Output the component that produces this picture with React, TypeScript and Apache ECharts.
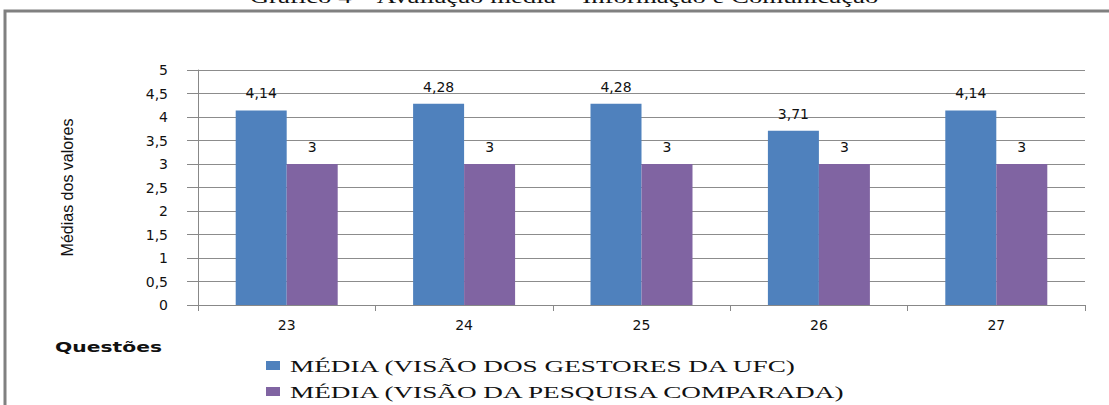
import React, { useEffect, useRef } from "react";
import * as echarts from "echarts";

const categories = ["23", "24", "25", "26", "27"];
const gestoresValues = [4.14, 4.28, 4.28, 3.71, 4.14];
const pesquisaValues = [3, 3, 3, 3, 3];
const seriesNames = [
  "MÉDIA (VISÃO DOS GESTORES DA UFC)",
  "MÉDIA (VISÃO DA PESQUISA COMPARADA)",
];
const seriesColors = ["#4F81BD", "#8064A2"];
const titleText = "Gráfico 4 – Avaliação média – Informação e Comunicação";
const yAxisName = "Médias dos valores";
const xAxisName = "Questões";

const comma = (v: number) => String(v).replace(".", ",");

export default function App() {
  const ref = useRef<HTMLDivElement>(null);
  useEffect(() => {
    document.body.style.margin = "0";
    if (!ref.current) return;
    const chart = echarts.init(ref.current, null, { renderer: "svg" });
    const labelStyle = {
      show: true,
      position: "top" as const,
      distance: 10,
      color: "#111",
      fontFamily: "DejaVu Sans",
      fontSize: 14,
      formatter: (p: any) => comma(p.value),
    };
    const legendGraphics: any[] = [];
    seriesNames.forEach((name, i) => {
      const cy = 366 + i * 26;
      legendGraphics.push({
        type: "rect",
        shape: { x: 266, y: cy - 5, width: 14, height: 9 },
        style: { fill: seriesColors[i] },
        silent: true,
      });
      legendGraphics.push({
        type: "text",
        x: 290,
        y: cy,
        scaleX: 1.6,
        originX: 0,
        style: {
          text: name,
          fontFamily: "Liberation Serif",
          fontSize: 17,
          fill: "#111",
          textAlign: "left",
          textVerticalAlign: "middle",
        },
      });
    });
    chart.setOption({
      animation: false,
      backgroundColor: "#fff",
      grid: { left: 198, right: 24, top: 70, bottom: 100, containLabel: false },
      legend: { show: false, data: seriesNames },
      xAxis: {
        type: "category",
        data: categories,
        axisLine: { lineStyle: { color: "#888", width: 1 } },
        axisTick: { show: true, length: 6, lineStyle: { color: "#888" } },
        axisLabel: {
          margin: 13,
          color: "#111",
          fontFamily: "DejaVu Sans",
          fontSize: 14,
        },
      },
      yAxis: {
        type: "value",
        min: 0,
        max: 5,
        interval: 0.5,
        name: yAxisName,
        nameLocation: "middle",
        nameRotate: 90,
        nameGap: 123,
        nameTextStyle: {
          fontFamily: "Liberation Sans",
          fontSize: 16,
          color: "#111",
        },
        axisLine: { show: true, lineStyle: { color: "#888", width: 1 } },
        axisTick: { show: true, length: 11, lineStyle: { color: "#888" } },
        splitLine: { show: true, lineStyle: { color: "#8c8c8c", width: 1 } },
        axisLabel: {
          margin: 30,
          color: "#111",
          fontFamily: "DejaVu Sans",
          fontSize: 14,
          formatter: (v: number) => comma(v),
        },
      },
      series: [
        {
          name: seriesNames[0],
          type: "bar",
          data: gestoresValues,
          barWidth: 51,
          barGap: "0%",
          itemStyle: { color: seriesColors[0] },
          label: labelStyle,
        },
        {
          name: seriesNames[1],
          type: "bar",
          data: pesquisaValues,
          barWidth: 51,
          barGap: "0%",
          itemStyle: { color: seriesColors[1] },
          label: labelStyle,
        },
      ],
      graphic: [
        {
          type: "polyline",
          shape: { points: [[5, 405], [5, 11], [1109, 11]] },
          style: { stroke: "#808080", lineWidth: 3, fill: null },
          silent: true,
        },
        {
          type: "text",
          x: 564,
          y: -13,
          scaleX: 1.41,
          originX: 0,
          style: {
            text: titleText,
            fontFamily: "Liberation Serif",
            fontSize: 19,
            fill: "#111",
            textAlign: "center",
            textVerticalAlign: "top",
          },
        },
        {
          type: "text",
          x: 55,
          y: 340,
          scaleX: 1.45,
          originX: 0,
          style: {
            text: xAxisName,
            fontFamily: "DejaVu Sans",
            fontWeight: "bold",
            fontSize: 14,
            fill: "#111",
          },
        },
        ...legendGraphics,
      ],
    });
    return () => chart.dispose();
  }, []);
  return <div ref={ref} style={{ width: 1109, height: 405 }} />;
}
